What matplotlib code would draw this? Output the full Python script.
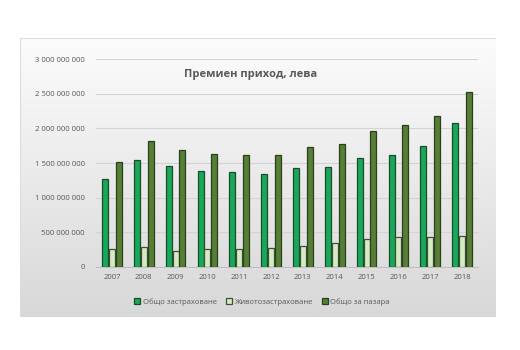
import numpy as np
import matplotlib
matplotlib.use("Agg")
import matplotlib.pyplot as plt
from matplotlib.patches import Rectangle
from matplotlib.ticker import FuncFormatter

# данни: премиен приход в лева
years = ["2007", "2008", "2009", "2010", "2011", "2012",
         "2013", "2014", "2015", "2016", "2017", "2018"]
general = [1268e6, 1539e6, 1461e6, 1384e6, 1365e6, 1341e6,
           1428e6, 1438e6, 1577e6, 1616e6, 1746e6, 2083e6]
life = [252e6, 285e6, 222e6, 252e6, 252e6, 275e6,
        304e6, 338e6, 396e6, 435e6, 433e6, 440e6]
market = [1519e6, 1814e6, 1684e6, 1626e6, 1616e6, 1611e6,
          1731e6, 1775e6, 1963e6, 2054e6, 2180e6, 2523e6]

series_names = ["Общо застраховане", "Животозастраховане", "Общо за пазара"]
colors = ["#17a85a", "#d4ebc4", "#577e35"]
edges = ["#1d4a2a", "#3f4f3a", "#2a3f1c"]

plt.rcParams["font.family"] = ["Open Sans", "DejaVu Sans"]

W, H = 520, 350
fig = plt.figure(figsize=(W / 100, H / 100), dpi=100)
fig.patch.set_facecolor("white")

# фон на диаграмата - градиент от бяло (горе) към сиво (долу)
px0, py0, px1, py1 = 20, 38, 496, 317
bg = fig.add_axes([px0 / W, 1 - py1 / H, (px1 - px0) / W, (py1 - py0) / H])
grad = np.linspace(0.0, 1.0, 256).reshape(-1, 1)
cmap = matplotlib.colors.LinearSegmentedColormap.from_list("g", ["#d8d8d8", "#fcfcfc"])
bg.imshow(grad, aspect="auto", cmap=cmap, extent=[0, 1, 0, 1], origin="lower")
bg.set_axis_off()
bg.add_patch(Rectangle((0, 0), 1, 1, transform=bg.transAxes, fill=False,
                       edgecolor="#dcdcdc", lw=0.8))

# основна графика
ax0, ay0, ax1, ay1 = 96, 59.3, 478, 266.7
ax = fig.add_axes([ax0 / W, 1 - ay1 / H, (ax1 - ax0) / W, (ay1 - ay0) / H])
ax.patch.set_alpha(0)

x = np.arange(len(years))
w = 0.19
off = 0.215
for i, vals in enumerate([general, life, market]):
    ax.bar(x + (i - 1) * off, vals, width=w, color=colors[i],
           edgecolor=edges[i], linewidth=0.9, label=series_names[i], zorder=3)

ax.set_xlim(-0.5, len(years) - 0.5)
ax.set_ylim(0, 3e9)
ax.set_yticks(np.arange(0, 3.01e9, 5e8))
ax.yaxis.set_major_formatter(FuncFormatter(
    lambda v, p: f"{int(v):,}".replace(",", " ")))
ax.grid(axis="y", color="#d4d4d4", lw=0.8, zorder=0)
ax.set_xticks(x)
ax.set_xticklabels(years)
ax.tick_params(axis="both", length=0, labelsize=5.6, colors="#595959")
ax.tick_params(axis="y", pad=8)
ax.tick_params(axis="x", pad=5)
for s in ["top", "right", "left"]:
    ax.spines[s].set_visible(False)
ax.spines["bottom"].set_color("#bfbfbf")

fig.text(251 / W, 1 - 75 / H, "Премиен приход, лева", ha="center", va="center",
         fontsize=8, fontweight="bold", color="#595959")

# легенда под графиката
fig.legend(*ax.get_legend_handles_labels(), loc="center",
           bbox_to_anchor=(262 / W, 1 - 302 / H),
           ncol=3, frameon=False, fontsize=5.5, labelcolor="#595959",
           handlelength=0.8, handleheight=0.8, handletextpad=0.3,
           columnspacing=1.2)

fig.savefig("out.png", dpi=100)
